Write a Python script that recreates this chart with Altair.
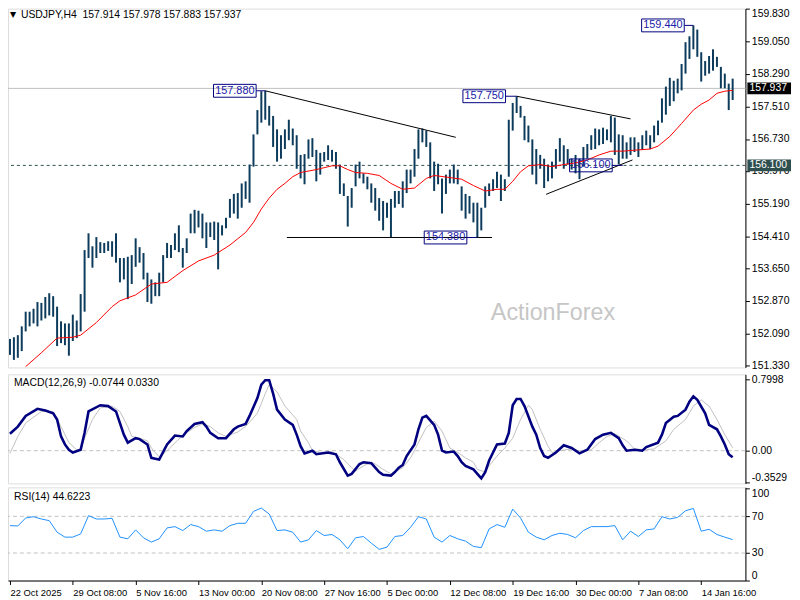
import altair as alt
import pandas as pd

# ---------------- data ----------------
highs = [151.96, 152.00, 152.05, 152.26, 152.61, 152.61, 152.68, 152.84, 152.82, 152.96,
         153.05, 152.98, 152.73, 152.38, 152.33, 152.33, 152.54, 152.40, 153.03, 154.08,
         154.48, 154.17, 154.39, 154.27, 154.25, 154.29, 154.29, 154.48, 153.89, 153.89,
         153.92, 153.96, 154.36, 154.15, 154.01, 153.54, 153.38, 153.31, 153.54, 153.96,
         154.25, 154.20, 154.48, 154.67, 154.13, 154.36, 154.95, 155.04, 155.02, 154.95,
         154.74, 154.74, 154.76, 154.74, 154.67, 154.85, 155.30, 155.42, 155.44, 155.67,
         155.72, 156.12, 156.84, 157.42, 157.87, 157.88, 157.52, 157.28, 156.96, 156.82,
         156.96, 157.19, 156.98, 156.82, 156.35, 156.37, 156.72, 156.75, 156.47, 156.40,
         156.42, 156.58, 156.47, 156.42, 156.12, 155.67, 155.37, 155.56, 156.12, 156.19,
         155.91, 155.83, 155.67, 155.56, 155.32, 155.25, 155.21, 155.30, 155.49, 155.49,
         155.72, 156.00, 156.00, 156.49, 156.96, 156.98, 156.93, 156.65, 156.19, 156.14,
         155.79, 155.88, 156.00, 156.12, 156.00, 155.60, 155.42, 155.37, 155.21, 155.21,
         155.09, 155.60, 155.67, 155.77, 155.95, 155.88, 155.77, 157.19, 157.59, 157.75,
         157.52, 157.28, 157.05, 156.72, 156.49, 156.35, 156.26, 156.12, 156.19, 156.49,
         156.75, 156.58, 156.49, 156.26, 156.35, 156.26, 156.54, 156.61, 156.82, 156.98,
         156.96, 157.00, 156.96, 157.28, 157.24, 156.84, 156.82, 156.65, 156.77, 156.77,
         156.65, 156.82, 156.93, 156.82, 157.05, 157.17, 157.70, 157.98, 158.19, 158.12,
         158.17, 158.52, 159.04, 159.18, 159.44, 159.34, 158.80, 158.59, 158.71, 158.87,
         158.69, 158.45, 158.29, 158.05, 158.17]
lows = [151.58, 151.46, 151.51, 151.67, 152.14, 152.26, 152.33, 152.26, 152.40, 152.45,
        152.52, 152.49, 151.79, 151.86, 151.81, 151.56, 151.91, 151.98, 152.14, 152.61,
        153.89, 153.66, 153.89, 154.01, 154.01, 154.06, 153.92, 153.78, 153.31, 153.38,
        152.91, 153.27, 153.68, 153.78, 153.38, 152.84, 152.80, 152.98, 152.98, 153.31,
        153.89, 153.89, 154.08, 154.03, 153.66, 154.01, 154.48, 154.48, 154.62, 154.36,
        154.13, 154.39, 154.32, 153.62, 154.43, 154.60, 154.85, 154.95, 154.83, 155.09,
        155.30, 155.21, 156.07, 156.84, 157.12, 157.19, 157.05, 156.54, 156.19, 156.26,
        156.49, 156.70, 156.58, 156.02, 155.79, 155.65, 156.26, 156.30, 155.72, 155.88,
        156.19, 156.23, 156.19, 156.02, 155.42, 155.37, 154.64, 155.09, 155.60, 155.79,
        155.67, 155.53, 155.21, 155.02, 154.78, 154.55, 154.85, 154.38, 155.09, 155.18,
        155.09, 155.44, 155.67, 155.83, 156.26, 156.65, 156.54, 155.79, 155.49, 155.65,
        154.95, 155.42, 155.67, 155.67, 155.65, 155.02, 154.83, 154.95, 154.74, 154.39,
        154.55, 155.09, 155.37, 155.49, 155.56, 155.25, 155.49, 155.83, 156.93, 157.35,
        157.24, 156.70, 156.65, 155.88, 155.65, 156.02, 155.56, 155.72, 155.79, 156.02,
        156.19, 156.02, 156.12, 156.00, 155.91, 155.77, 156.07, 156.26, 156.47, 156.49,
        156.58, 156.61, 156.70, 156.65, 156.35, 156.12, 156.26, 156.26, 156.35, 156.42,
        156.30, 156.47, 156.58, 156.49, 156.65, 156.82, 157.12, 157.31, 157.52, 157.63,
        157.82, 157.89, 158.29, 158.64, 158.87, 158.69, 158.10, 158.24, 158.29, 158.36,
        158.45, 157.94, 157.94, 157.42, 157.66]

ma_idx = [4, 8, 12, 16, 18, 22, 26, 28, 32, 36, 40, 44, 48, 52, 56, 60, 62, 64, 66,
          68, 70, 72, 74, 78, 82, 84, 86, 88, 91, 94, 97, 100, 103, 106, 108, 112, 115, 118, 121,
          124, 126, 128, 130, 132, 135, 138, 141, 144, 147, 150, 153, 156, 160, 163, 165, 168, 171, 174, 176,
          178, 180, 182, 184]
ma_val = [151.30, 151.63, 151.98, 152.00, 152.05, 152.35, 152.73, 152.87, 153.01,
          153.27, 153.31, 153.59, 153.82, 153.96, 154.20, 154.50, 154.74, 155.06, 155.32,
          155.53, 155.67, 155.83, 155.93, 156.00, 156.09, 156.09, 156.00, 155.93, 155.91,
          155.86, 155.67, 155.53, 155.56, 155.79, 155.86, 155.81, 155.77, 155.62, 155.49,
          155.53, 155.53, 155.72, 155.95, 156.09, 156.12, 156.07, 156.12, 156.16, 156.23,
          156.35, 156.44, 156.44, 156.47, 156.49, 156.56, 156.79, 157.10, 157.42, 157.56,
          157.66, 157.82, 157.87, 157.89]

macd_idx = [0, 2, 4, 7, 9, 11, 12, 13, 14, 15, 16, 18, 19, 20, 23, 25, 27, 28, 29, 30,
            32, 33, 35, 36, 37, 38, 40, 42, 44, 45, 47, 49, 50, 51, 53, 55, 57, 58, 60, 61,
            63, 64, 65, 66, 67, 68, 70, 72, 73, 74, 75, 77, 78, 81, 83, 84, 86, 87, 89, 90,
            92, 93, 94, 95, 97, 98, 99, 100, 101, 103, 104, 105, 106, 108, 109, 110, 111, 113, 114, 115,
            116, 118, 119, 120, 121, 122, 124, 126, 127, 128, 129, 130, 131, 133, 134, 135, 136, 137, 139, 141,
            143, 145, 147, 149, 151, 153, 155, 156, 157, 159, 161, 162, 165, 166, 167, 169, 170, 172, 173, 174,
            175, 177, 178, 180, 181, 182, 183, 184]
macd_val = [0.19, 0.27, 0.39, 0.47, 0.45, 0.42, 0.35, 0.16, 0.07, 0.01, -0.02, 0.01, 0.20, 0.44, 0.51, 0.50, 0.44, 0.31, 0.18, 0.09,
            0.14, 0.13, 0.07, -0.08, -0.09, -0.10, 0.07, 0.17, 0.16, 0.22, 0.30, 0.32, 0.27, 0.20, 0.14, 0.14, 0.24, 0.27, 0.30, 0.39,
            0.59, 0.74, 0.79, 0.79, 0.64, 0.46, 0.35, 0.29, 0.18, 0.05, -0.03, 0.00, -0.04, -0.02, -0.04, -0.13, -0.28, -0.26, -0.15, -0.13,
            -0.14, -0.19, -0.24, -0.27, -0.28, -0.24, -0.19, -0.16, -0.06, 0.07, 0.24, 0.37, 0.39, 0.29, 0.18, 0.00, -0.02, -0.01, -0.06, -0.13,
            -0.17, -0.21, -0.26, -0.31, -0.24, -0.11, 0.07, 0.08, 0.20, 0.51, 0.58, 0.58, 0.50, 0.27, 0.18, 0.03, -0.06, -0.08, -0.02, 0.06,
            0.03, -0.03, 0.01, 0.13, 0.18, 0.20, 0.14, 0.06, 0.00, 0.01, 0.00, 0.04, 0.09, 0.18, 0.31, 0.38, 0.39, 0.46, 0.55, 0.61,
            0.57, 0.42, 0.29, 0.24, 0.16, 0.07, -0.04, -0.0744]

sig_idx = [0, 2, 4, 8, 11, 13, 15, 17, 18, 19, 21, 23, 26, 28, 30, 31, 33, 35, 36, 38,
           40, 43, 45, 47, 49, 51, 53, 55, 58, 60, 63, 65, 66, 68, 70, 73, 74, 76, 77, 79,
           82, 83, 85, 87, 88, 90, 92, 93, 95, 97, 98, 100, 102, 104, 106, 108, 110, 112, 114, 116,
           118, 119, 121, 122, 124, 126, 128, 130, 132, 133, 135, 137, 138, 140, 143, 145, 148, 150, 152, 154,
           157, 159, 162, 164, 167, 169, 172, 174, 176, 178, 180, 182, 184]
sig_val = [-0.03, 0.16, 0.31, 0.44, 0.44, 0.27, 0.09, 0.01, 0.01, 0.14, 0.35, 0.48, 0.50, 0.44, 0.27, 0.16, 0.14, 0.11, 0.03, -0.07,
           0.00, 0.13, 0.20, 0.26, 0.30, 0.27, 0.20, 0.16, 0.21, 0.27, 0.42, 0.64, 0.74, 0.66, 0.50, 0.35, 0.22, 0.09, 0.00, -0.02,
           -0.01, -0.04, -0.10, -0.19, -0.23, -0.17, -0.13, -0.15, -0.21, -0.26, -0.24, -0.19, -0.08, 0.09, 0.26, 0.33, 0.22, 0.03, -0.02, -0.08,
           -0.13, -0.21, -0.24, -0.17, -0.06, 0.03, 0.14, 0.35, 0.51, 0.46, 0.24, 0.05, -0.02, 0.00, 0.02, 0.00, 0.01, 0.09, 0.16, 0.19,
           0.11, 0.02, 0.01, 0.02, 0.11, 0.24, 0.35, 0.50, 0.57, 0.50, 0.35, 0.18, 0.033]

rsi_val = [59.9, 59.5, 68.2, 69.6, 67.1, 65.3, 52.7, 47.3, 47.3, 50.9,
           70.7, 67.1, 67.1, 67.8, 47.3, 45.5, 55.2, 46.6, 41.9, 45.5,
           57.4, 58.8, 54.5, 61.0, 58.8, 53.8, 55.2, 53.8, 59.9, 62.4,
           62.4, 75.4, 79.0, 72.5, 54.5, 55.2, 52.7, 41.9, 44.4, 54.5,
           49.1, 50.2, 44.4, 34.7, 46.6, 48.0, 40.8, 34.0, 36.5, 48.0,
           49.1, 58.1, 69.6, 67.1, 47.3, 41.9, 49.1, 45.5, 43.0, 37.2,
           35.8, 56.3, 61.0, 58.1, 77.9, 68.2, 52.7, 47.3, 44.4, 49.1,
           51.6, 50.2, 46.6, 54.5, 58.8, 58.8, 58.8, 59.9, 44.4, 53.8,
           48.0, 55.2, 56.3, 69.6, 67.1, 68.9, 76.1, 78.6, 53.8, 55.9,
           50.2, 47.3, 44.6]
rsi_idx = [2 * k for k in range(len(rsi_val))]

price_ticks = [159.830, 159.050, 158.290, 157.510, 156.730, 155.970, 155.190,
               154.410, 153.650, 152.870, 152.090, 151.330]
date_labels = ["22 Oct 2025", "29 Oct 08:00", "5 Nov 16:00", "13 Nov 00:00", "20 Nov 08:00",
               "27 Nov 16:00", "5 Dec 00:00", "12 Dec 08:00", "19 Dec 16:00", "30 Dec 00:00",
               "7 Jan 08:00", "14 Jan 16:00"]
date_tick_idx = [16 * k for k in range(len(date_labels))]

# trend lines (bar index, price)
tl_x1 = [65, 70.5, 129, 136.5]
tl_y1 = [157.88, 154.38, 157.75, 155.41]
tl_x2 = [113.5, 122.75, 158, 158.5]
tl_y2 = [156.77, 154.38, 157.21, 156.23]

# pivot labels
lab_text = ["157.880", "154.380", "157.750", "156.100", "159.440"]
lab_idx = [57.25, 110.9, 120.75, 147.9, 166.25]
lab_price = [157.88, 154.38, 157.75, 156.10, 159.44]
lab_pivot = [65, 119, 129, 156, 174]

last_price = 157.937
level_price = 156.100
header = "USDJPY,H4\u00a0\u00a0157.914 157.978 157.883 157.937"
macd_label = "MACD(12,26,9) -0.0744 0.0330"
rsi_label = "RSI(14) 44.6223"

# ---------------- chart ----------------
FONT = "Liberation Sans"
W = 744
H_MAIN, H_MACD, H_RSI = 362, 110, 94

xs = alt.Scale(domain=[-0.5, 187.25], nice=False, zero=False)
Xn = alt.X("i:Q", scale=xs, axis=None)

axis_common = dict(title=None, grid=False, labelFont=FONT, labelFontSize=10.5, labelColor="black",
                   tickColor="black", tickSize=4, labelPadding=2, domainColor="black")

ps = alt.Scale(domain=[151.28, 159.84], nice=False, zero=False)
p_axis = alt.Axis(orient="right", values=price_ticks, format=".3f",
                  labelBaseline={"condition": {"test": "datum.value > 159.8", "value": "top"}, "value": "middle"},
                  **axis_common)


def Yp(f):
    return alt.Y(f"{f}:Q", scale=ps, axis=p_axis)


bars_df = pd.DataFrame({"i": list(range(len(highs))), "high": highs, "low": lows})
ma_df = pd.DataFrame({"i": ma_idx, "v": ma_val})
tl_df = pd.DataFrame({"x1": tl_x1, "y1": tl_y1, "x2": tl_x2, "y2": tl_y2})
lab_df = pd.DataFrame({"t": lab_text, "i": lab_idx, "p": lab_price, "pv": lab_pivot})
lab_df["edge"] = lab_df["i"] + 5.45
tag_df = pd.DataFrame({"p": [last_price, level_price], "t": [f"{last_price:.3f}", f"{level_price:.3f}"],
                       "bg": ["#000000", "#2f4f4f"]})

cur_line = alt.Chart(pd.DataFrame({"p": [last_price]})).mark_rule(color="#c0c0c0", strokeWidth=1).encode(y=Yp("p"))
lvl_line = alt.Chart(pd.DataFrame({"p": [level_price]})).mark_rule(
    color="#2f4f4f", strokeWidth=1, strokeDash=[3, 3]).encode(y=Yp("p"))
watermark = alt.Chart(pd.DataFrame({"i": [138.25], "p": [152.42], "t": ["ActionForex"]})).mark_text(
    font=FONT, fontSize=23.5, color="#c6c6c6", align="center", baseline="alphabetic").encode(
    x=Xn, y=Yp("p"), text="t:N")
bars = alt.Chart(bars_df).mark_rule(color="#0c3b5c", strokeWidth=2).encode(x=Xn, y=Yp("low"), y2="high:Q")
ma = alt.Chart(ma_df).mark_line(color="#ff0000", strokeWidth=1).encode(x=Xn, y=Yp("v"))
trend = alt.Chart(tl_df).mark_rule(color="black", strokeWidth=1).encode(
    x=alt.X("x1:Q", scale=xs, axis=None), y=Yp("y1"), x2="x2:Q", y2="y2:Q")
conn = alt.Chart(lab_df).mark_rule(color="#000080", strokeWidth=1).encode(
    x=alt.X("edge:Q", scale=xs, axis=None), x2="pv:Q", y=Yp("p"))
boxes = alt.Chart(lab_df).mark_rect(width=43, height=13, fillOpacity=0, stroke="#000080", strokeWidth=1).encode(
    x=Xn, y=Yp("p"))
box_text = alt.Chart(lab_df).mark_text(font=FONT, fontSize=11, color="#2020a8").encode(x=Xn, y=Yp("p"), text="t:N")
tag_rect = alt.Chart(tag_df).mark_rect(height=12).encode(
    x=alt.value(W + 2), x2=alt.value(W + 46), y=Yp("p"), color=alt.Color("bg:N", scale=None))
tag_text = alt.Chart(tag_df).mark_text(font=FONT, fontSize=10.5, color="white", align="left").encode(
    x=alt.value(W + 4), y=Yp("p"), text="t:N")
hdr = alt.Chart(pd.DataFrame({"t": [header]})).mark_text(
    font=FONT, fontSize=10.5, color="black", align="left", baseline="middle").encode(
    x=alt.value(13), y=alt.value(6), text="t:N")
tri = alt.Chart(pd.DataFrame({"t": ["\u25bc"]})).mark_text(
    font="DejaVu Sans", fontSize=8, color="black", align="left", baseline="middle").encode(
    x=alt.value(2), y=alt.value(6), text="t:N")

main = alt.layer(watermark, cur_line, lvl_line, bars, ma, trend, conn, boxes, box_text,
                 tag_rect, tag_text, hdr, tri).properties(width=W, height=H_MAIN)

# MACD panel
ms = alt.Scale(domain=[-0.367, 0.856], nice=False, zero=False)
m_axis = alt.Axis(orient="right", values=[0.7998, 0, -0.3529],
                  labelExpr="datum.value == 0 ? '0.00' : (datum.value < 0 ? '-' + format(-datum.value, '.4f') : format(datum.value, '.4f'))",
                  labelBaseline={"condition": {"test": "datum.value < -0.3", "value": "bottom"}, "value": "middle"},
                  **axis_common)
Ym = alt.Y("v:Q", scale=ms, axis=m_axis)
macd_df = pd.DataFrame({"i": macd_idx, "v": macd_val})
sig_df = pd.DataFrame({"i": sig_idx, "v": sig_val})
m_zero = alt.Chart(pd.DataFrame({"v": [0.0]})).mark_rule(color="#c0c0c0", strokeDash=[4, 3]).encode(y=Ym)
m_sig = alt.Chart(sig_df).mark_line(color="#c0c0c0", strokeWidth=1).encode(x=Xn, y=Ym)
m_line = alt.Chart(macd_df).mark_line(color="#000080", strokeWidth=2.6).encode(x=Xn, y=Ym)
m_lab = alt.Chart(pd.DataFrame({"t": [macd_label]})).mark_text(
    font=FONT, fontSize=10.5, color="black", align="left", baseline="middle").encode(
    x=alt.value(6), y=alt.value(9), text="t:N")
macd = alt.layer(m_zero, m_sig, m_line, m_lab).properties(width=W, height=H_MACD)

# RSI panel
rs = alt.Scale(domain=[0, 101.6], nice=False, zero=False)
r_axis = alt.Axis(orient="right", values=[100, 70, 30, 0], format="d",
                  labelBaseline={"condition": [{"test": "datum.value >= 100", "value": "top"},
                                               {"test": "datum.value <= 0", "value": "bottom"}],
                                 "value": "middle"},
                  **axis_common)
label_array = "[" + ",".join("'" + s + "'" for s in date_labels) + "]"
x_axis = alt.Axis(values=date_tick_idx, labelExpr=label_array + "[round(datum.value/16)]",
                  labelAlign="left", labelBaseline="top", labelPadding=3, tickSize=4, tickColor="black",
                  domainColor="black", labelFont=FONT, labelFontSize=9.5, labelColor="black",
                  title=None, grid=False, labelOverlap=False, labelFlush=False, labelBound=False)
Xr = alt.X("i:Q", scale=xs, axis=x_axis)
Yr = alt.Y("v:Q", scale=rs, axis=r_axis)
rsi_df = pd.DataFrame({"i": rsi_idx, "v": rsi_val})
r_lvls = alt.Chart(pd.DataFrame({"v": [70, 30]})).mark_rule(color="#c0c0c0", strokeDash=[4, 3]).encode(y=Yr)
r_line = alt.Chart(rsi_df).mark_line(color="#1e90ff", strokeWidth=1).encode(x=Xr, y=Yr)
r_lab = alt.Chart(pd.DataFrame({"t": [rsi_label]})).mark_text(
    font=FONT, fontSize=10.5, color="black", align="left", baseline="middle").encode(
    x=alt.value(6), y=alt.value(10), text="t:N")
rsi = alt.layer(r_lvls, r_line, r_lab).properties(width=W, height=H_RSI)

chart = alt.vconcat(main, macd, rsi, spacing=2).properties(
    padding={"left": -4, "top": -3, "right": 0, "bottom": 0}
).configure_view(stroke="black", strokeWidth=1).configure(background="white")

chart.save("out.html", embed_options={"renderer": "svg", "actions": False})
